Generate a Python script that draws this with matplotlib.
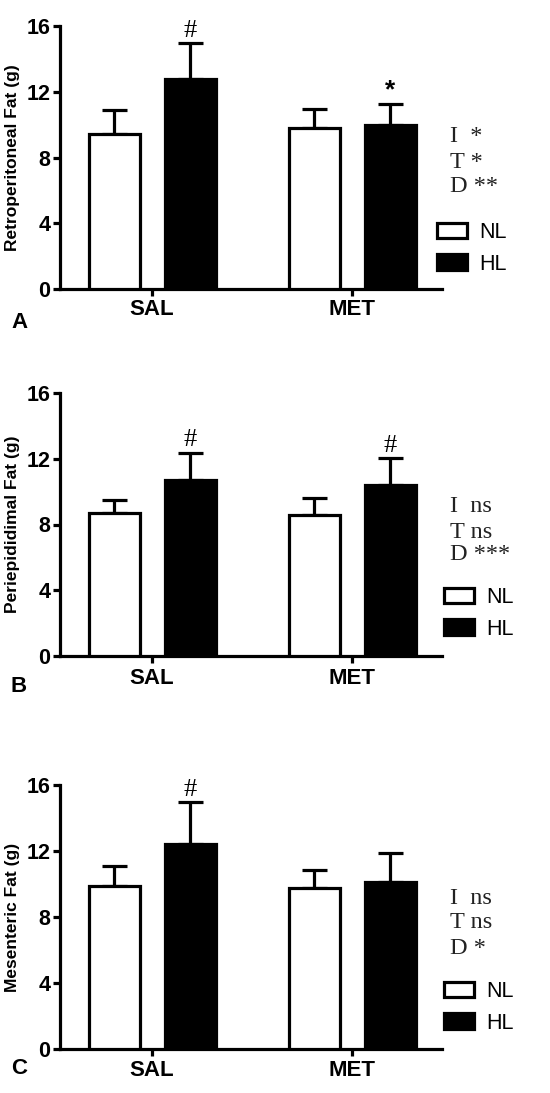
import matplotlib
matplotlib.use("Agg")
import matplotlib.pyplot as plt
import numpy as np

# ---- data ----
groups = ["SAL", "MET"]
series = ["NL", "HL"]
ylabels = ["Retroperitoneal Fat (g)", "Periepididimal Fat (g)", "Mesenteric Fat (g)"]
panel_letters = ["A", "B", "C"]

retro_nl = [9.41, 9.78]
retro_nl_err = [1.48, 1.19]
retro_hl = [12.78, 10.00]
retro_hl_err = [2.17, 1.25]

peri_nl = [8.73, 8.59]
peri_nl_err = [0.77, 1.05]
peri_hl = [10.68, 10.40]
peri_hl_err = [1.70, 1.62]

mes_nl = [9.90, 9.76]
mes_nl_err = [1.17, 1.07]
mes_hl = [12.44, 10.14]
mes_hl_err = [2.51, 1.74]

hl_marks = [["#", "*"], ["#", "#"], ["#", ""]]
stats = [["I  *", "T *", "D **"], ["I  ns", "T ns", "D ***"], ["I  ns", "T ns", "D *"]]
yticks = [0, 4, 8, 12, 16]

panels = [
    (retro_nl, retro_nl_err, retro_hl, retro_hl_err),
    (peri_nl, peri_nl_err, peri_hl, peri_hl_err),
    (mes_nl, mes_nl_err, mes_hl, mes_hl_err),
]

W, H = 550, 1093
fig = plt.figure(figsize=(W / 100, H / 100), dpi=100)

SANS = "Liberation Sans"
SERIF = "Liberation Serif"

# pixel layout of each panel: (top, bottom)
tb = [(26, 289), (393, 656), (785, 1049)]
left_px, right_px = 60, 442
legend_x = [437, 444, 444]
legend_top = [222, 587, 981]
stats_y = [[137, 162, 187], [507, 532, 555], [899, 923, 948]]
letter_y = [322, 687, 1069]
cat_y = [309, 678, 1071]


def fx(x):
    return x / W


def fy(y):
    return 1 - y / H


lw = 2.3
for i, (nl, nle, hl, hle) in enumerate(panels):
    top, bot = tb[i]
    ax = fig.add_axes([fx(left_px), fy(bot), fx(right_px - left_px), (bot - top) / H])
    x = np.arange(len(groups))
    off = 0.19
    bw = 0.255
    b1 = ax.bar(x - off, nl, bw, color="white", edgecolor="black", linewidth=lw, label=series[0], zorder=3)
    b2 = ax.bar(x + off, hl, bw, color="black", edgecolor="black", linewidth=lw, label=series[1], zorder=3)
    ax.errorbar(x - off, nl, yerr=[np.zeros(len(nl)), nle], fmt="none", ecolor="black",
                elinewidth=2.3, capsize=9, capthick=2.3, zorder=2)
    ax.errorbar(x + off, hl, yerr=[np.zeros(len(hl)), hle], fmt="none", ecolor="black",
                elinewidth=2.3, capsize=9, capthick=2.3, zorder=2)
    for j, m in enumerate(hl_marks[i]):
        if not m:
            continue
        if m == "#":
            ax.annotate(m, (x[j] + off, hl[j] + hle[j]), xytext=(0, 1), textcoords="offset points",
                        ha="center", va="bottom", fontsize=19, family=SERIF, annotation_clip=False)
        else:
            ax.annotate(m, (x[j] + off, hl[j] + hle[j]), xytext=(0, 1), textcoords="offset points",
                        ha="center", va="bottom", fontsize=19, family=SANS, fontweight="bold",
                        annotation_clip=False)

    ax.set_xlim(-0.46, 1.45)
    ax.set_ylim(0, 16)
    ax.set_yticks(yticks)
    ax.set_yticklabels([str(t) for t in yticks], fontsize=15.5, fontweight="bold", family=SANS)
    ax.set_xticks(x)
    ax.set_xticklabels([])
    ax.spines["top"].set_visible(False)
    ax.spines["right"].set_visible(False)
    ax.spines["left"].set_linewidth(2.3)
    ax.spines["bottom"].set_linewidth(2.3)
    ax.tick_params(axis="both", direction="out", length=5, width=2.3, pad=2)
    ax.set_ylabel(ylabels[i], fontsize=12.5, fontweight="bold", family=SANS)
    ax.yaxis.set_label_coords((20 - left_px) / (right_px - left_px), 0.5)

    # category labels
    for k, g in enumerate(groups):
        xp = left_px + (x[k] + 0.46) / 1.91 * (right_px - left_px)
        fig.text(fx(xp), fy(cat_y[i]), g, ha="center", va="center", fontsize=16,
                 fontweight="bold", family=SANS)
    fig.text(fx(19), fy(letter_y[i]), panel_letters[i], ha="center", va="center", fontsize=16,
             fontweight="bold", family=SANS)

    # stats text
    for k, s in enumerate(stats[i]):
        fig.text(fx(450), fy(stats_y[i][k]), s, ha="left", va="center", fontsize=17.5, family=SERIF,
                 color="#222222")

    leg = ax.legend(handles=[b1, b2], loc="upper left",
                    bbox_to_anchor=(fx(legend_x[i]), fy(legend_top[i])), bbox_transform=fig.transFigure,
                    frameon=False, prop={"family": SANS, "size": 15.5}, handlelength=1.4,
                    handleheight=0.75, handletextpad=0.55, labelspacing=0.5, borderpad=0, borderaxespad=0)

fig.savefig("out.png", dpi=100)
